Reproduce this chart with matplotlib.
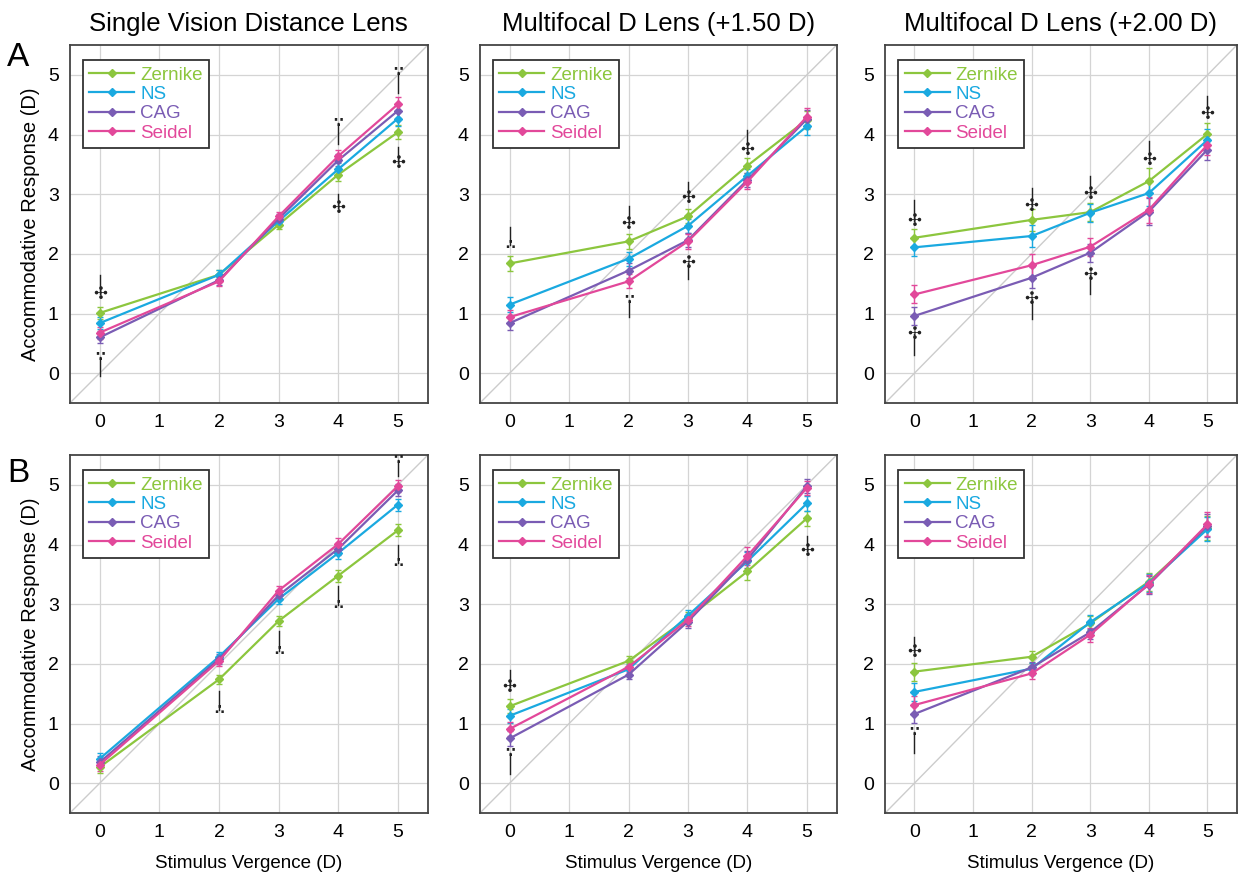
import matplotlib
matplotlib.use("Agg")
import matplotlib.pyplot as plt
from matplotlib.lines import Line2D

# stimulus vergence (D)
x_vals = [0, 2, 3, 4, 5]
series_names = ["Zernike", "NS", "CAG", "Seidel"]
colors = ["#8cc63e", "#1aa9e0", "#7a5cb4", "#e2489a"]
titles = ["Single Vision Distance Lens", "Multifocal D Lens (+1.50 D)", "Multifocal D Lens (+2.00 D)"]
row_letters = ["A", "B"]

# row A
a1_zernike = [1.01, 1.65, 2.49, 3.33, 4.04]
a1_ns = [0.84, 1.65, 2.55, 3.42, 4.27]
a1_cag = [0.60, 1.56, 2.59, 3.57, 4.40]
a1_seidel = [0.68, 1.54, 2.63, 3.64, 4.51]

a2_zernike = [1.84, 2.21, 2.63, 3.48, 4.25]
a2_ns = [1.15, 1.92, 2.47, 3.31, 4.14]
a2_cag = [0.84, 1.72, 2.23, 3.24, 4.26]
a2_seidel = [0.94, 1.54, 2.21, 3.21, 4.30]

a3_zernike = [2.27, 2.57, 2.70, 3.22, 4.01]
a3_ns = [2.11, 2.30, 2.69, 3.02, 3.91]
a3_cag = [0.96, 1.60, 2.02, 2.71, 3.75]
a3_seidel = [1.32, 1.81, 2.12, 2.74, 3.83]

# row B
b1_zernike = [0.27, 1.74, 2.72, 3.48, 4.24]
b1_ns = [0.41, 2.12, 3.09, 3.86, 4.67]
b1_cag = [0.35, 2.08, 3.15, 3.93, 4.91]
b1_seidel = [0.31, 2.05, 3.23, 4.01, 4.98]

b2_zernike = [1.29, 2.05, 2.77, 3.55, 4.44]
b2_ns = [1.13, 1.91, 2.81, 3.72, 4.69]
b2_cag = [0.75, 1.82, 2.71, 3.75, 4.98]
b2_seidel = [0.91, 1.95, 2.74, 3.81, 4.95]

b3_zernike = [1.87, 2.12, 2.68, 3.38, 4.28]
b3_ns = [1.53, 1.92, 2.70, 3.36, 4.26]
b3_cag = [1.16, 1.94, 2.53, 3.33, 4.32]
b3_seidel = [1.31, 1.84, 2.49, 3.34, 4.34]

# approximate standard errors
a1_err = [0.10, 0.08, 0.08, 0.10, 0.12]
a2_err = [0.12, 0.12, 0.12, 0.12, 0.15]
a3_err = [0.15, 0.18, 0.15, 0.22, 0.18]
b1_err = [0.10, 0.08, 0.08, 0.10, 0.10]
b2_err = [0.12, 0.08, 0.10, 0.15, 0.12]
b3_err = [0.15, 0.10, 0.12, 0.15, 0.20]

panel_data = [
    [[a1_zernike, a1_ns, a1_cag, a1_seidel], [a2_zernike, a2_ns, a2_cag, a2_seidel], [a3_zernike, a3_ns, a3_cag, a3_seidel]],
    [[b1_zernike, b1_ns, b1_cag, b1_seidel], [b2_zernike, b2_ns, b2_cag, b2_seidel], [b3_zernike, b3_ns, b3_cag, b3_seidel]],
]
panel_err = [[a1_err, a2_err, a3_err], [b1_err, b2_err, b3_err]]

# significance marks: (x, symbol y, stem end y, symbol)
a1_sig = [(0, 1.33, 1.65, "✣"), (0, 0.27, -0.05, "∵"), (4, 4.2, 3.85, "∵"), (4, 2.77, 3.0, "✣"), (5, 5.05, 4.7, "∵"), (5, 3.53, 3.8, "✣")]
a2_sig = [(0, 2.15, 2.45, "∴"), (2, 2.5, 2.8, "✣"), (2, 1.23, 0.95, "∵"), (3, 2.93, 3.2, "✣"), (3, 1.85, 1.58, "✣"), (4, 3.75, 4.07, "✣")]
a3_sig = [(0, 2.55, 2.9, "✣"), (0, 0.65, 0.3, "✣"), (2, 2.8, 3.1, "✣"), (2, 1.25, 0.9, "✣"), (3, 3.0, 3.3, "✣"), (3, 1.65, 1.32, "✣"), (4, 3.57, 3.9, "✣"), (5, 4.35, 4.65, "✣")]
b1_sig = [(2, 1.22, 1.55, "∴"), (3, 2.22, 2.55, "∴"), (4, 2.98, 3.3, "∴"), (5, 3.7, 4.0, "∴"), (5, 5.42, 5.15, "∵")]
b2_sig = [(0, 1.62, 1.9, "✣"), (0, 0.5, 0.16, "∵"), (5, 3.9, 4.15, "✣")]
b3_sig = [(0, 2.2, 2.45, "✣"), (0, 0.85, 0.5, "∵")]
panel_sig = [[a1_sig, a2_sig, a3_sig], [b1_sig, b2_sig, b3_sig]]

plt.rcParams['font.family'] = ['Liberation Sans', 'DejaVu Sans']

fig = plt.figure(figsize=(12.38, 8.77), dpi=100)
lefts = [0.0565, 0.3877, 0.715]
widths = [0.289, 0.288, 0.284]
bottoms = [0.5405, 0.073]
height = 0.408

legend_handles = [Line2D([0], [0], color=col, marker="D", markersize=4, linewidth=1.6) for col in colors]

for r in range(2):
    for c in range(3):
        ax = fig.add_axes([lefts[c], bottoms[r], widths[c], height])
        ax.set_xlim(-0.5, 5.5)
        ax.set_ylim(-0.5, 5.5)
        ax.set_xticks(range(6))
        ax.set_yticks(range(6))
        ax.grid(True, color="#d4d4d4", linewidth=0.9)
        ax.set_axisbelow(True)
        ax.tick_params(length=0, labelsize=14, pad=8)
        for sp in ax.spines.values():
            sp.set_color("#444444")
            sp.set_linewidth(1.3)
        ax.plot([-0.5, 5.5], [-0.5, 5.5], color="#cccccc", linewidth=1.0, zorder=1)

        for k in range(4):
            ax.errorbar(x_vals, panel_data[r][c][k], yerr=panel_err[r][c],
                        color=colors[k], marker="D", markersize=4, linewidth=1.6,
                        capsize=2.5, elinewidth=1.0, zorder=3)

        for (sx, sy, ey, sym) in panel_sig[r][c]:
            ax.plot([sx, sx], [sy, ey], color="#222222", linewidth=1.0, zorder=4)
            fs = 12 if sym == "✣" else 10
            ax.text(sx, sy, sym, ha="center", va="center", fontsize=fs, fontweight="bold",
                    family=["DejaVu Sans"], color="#222222", zorder=5)

        leg = ax.legend(legend_handles, series_names, loc="upper left",
                        bbox_to_anchor=(0.01, 0.985), fontsize=13.5,
                        handlelength=2.4, handletextpad=0.3, labelspacing=0.12,
                        borderpad=0.35, fancybox=False, framealpha=1)
        leg.get_frame().set_edgecolor("#333333")
        leg.get_frame().set_linewidth(1.3)
        for txt, col in zip(leg.get_texts(), colors):
            txt.set_color(col)

        if r == 0:
            ax.set_title(titles[c], fontsize=18.5, pad=10)
        if c == 0:
            ax.set_ylabel("Accommodative Response (D)", fontsize=14.5, labelpad=6)
        if r == 1:
            ax.set_xlabel("Stimulus Vergence (D)", fontsize=13.5, labelpad=10)

fig.text(0.006, 0.925, row_letters[0], fontsize=24)
fig.text(0.006, 0.45, row_letters[1], fontsize=24)

fig.savefig("out.png", dpi=100)
